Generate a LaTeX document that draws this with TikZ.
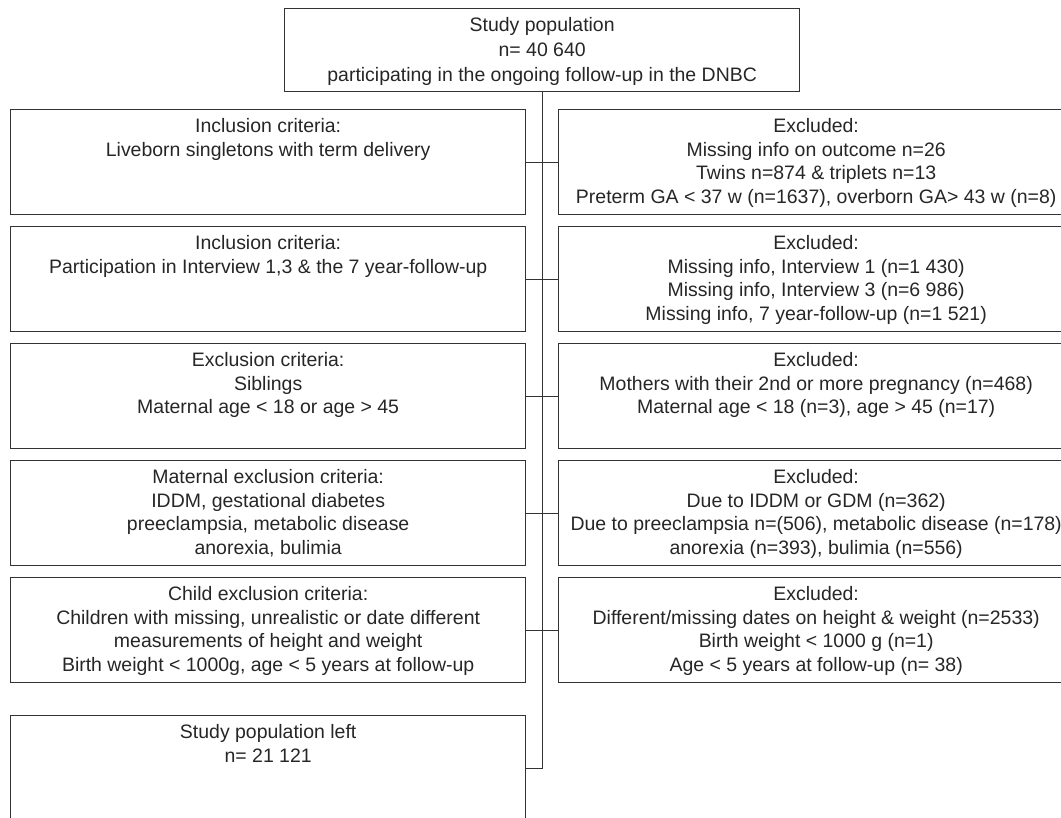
\documentclass[tikz,border=0pt]{standalone}
\usepackage{fontspec}
\setmainfont{Liberation Sans}
\usetikzlibrary{positioning}

\begin{document}
\begin{tikzpicture}[x=.75pt,y=-.75pt,
  box/.style={draw=black!80,line width=1pt,minimum width=386.25pt,minimum height=78.75pt,inner sep=0pt,anchor=north west},
  txt/.style={align=center,inner sep=0pt,text=black!85,font=\fontsize{14.6}{17.6}\selectfont},
  conn/.style={draw=black!80,line width=1pt}]
\clip (0,0) rectangle (1061,818);
% top box
\node[box,minimum height=62.25pt] (pop) at (284,8) {};
\node[txt,font=\fontsize{14.6}{18.8}\selectfont,below=7pt of pop.north] (popt) {Study population\\n= 40 640\\participating in the ongoing follow-up in the DNBC};
% row 1
\node[box] (l1) at (10,109) {};
\node[txt,below=7pt of l1.north] (l1t) {Inclusion criteria:\\Liveborn singletons with term delivery};
\node[box] (r1) at (558,109) {};
\node[txt,below=7pt of r1.north] (r1t) {Excluded:\\Missing info on outcome n=26\\Twins n=874 \& triplets n=13\\Preterm GA < 37 w (n=1637), overborn GA> 43 w (n=8)};
% row 2
\node[box] (l2) at (10,226) {};
\node[txt,below=7pt of l2.north] (l2t) {Inclusion criteria:\\Participation in Interview 1,3 \& the 7 year-follow-up};
\node[box] (r2) at (558,226) {};
\node[txt,below=7pt of r2.north] (r2t) {Excluded:\\Missing info, Interview 1 (n=1 430)\\Missing info, Interview 3 (n=6 986)\\Missing info, 7 year-follow-up (n=1 521)};
% row 3
\node[box] (l3) at (10,343) {};
\node[txt,below=7pt of l3.north] (l3t) {Exclusion criteria:\\Siblings\\Maternal age < 18 or age > 45};
\node[box] (r3) at (558,343) {};
\node[txt,below=7pt of r3.north] (r3t) {Excluded:\\Mothers with their 2nd or more pregnancy (n=468)\\Maternal age < 18 (n=3), age > 45 (n=17)};
% row 4
\node[box] (l4) at (10,460) {};
\node[txt,below=7pt of l4.north] (l4t) {Maternal exclusion criteria:\\IDDM, gestational diabetes\\preeclampsia, metabolic disease\\anorexia, bulimia};
\node[box] (r4) at (558,460) {};
\node[txt,below=7pt of r4.north] (r4t) {Excluded:\\Due to IDDM or GDM (n=362)\\Due to preeclampsia n=(506), metabolic disease (n=178)\\anorexia (n=393), bulimia (n=556)};
% row 5
\node[box] (l5) at (10,577) {};
\node[txt,below=7pt of l5.north] (l5t) {Child exclusion criteria:\\Children with missing, unrealistic or date different\\measurements of height and weight\\Birth weight < 1000g, age < 5 years at follow-up};
\node[box] (r5) at (558,577) {};
\node[txt,below=7pt of r5.north] (r5t) {Excluded:\\Different/missing dates on height \& weight (n=2533)\\Birth weight < 1000 g (n=1)\\Age < 5 years at follow-up (n= 38)};
% final box
\node[box] (fin) at (10,715) {};
\node[txt,below=7pt of fin.north] (fint) {Study population left\\n= 21 121};
% connectors
\draw[conn] (pop.south) |- (fin.east);
\draw[conn] (l1.east) -- (r1.west);
\draw[conn] (l2.east) -- (r2.west);
\draw[conn] (l3.east) -- (r3.west);
\draw[conn] (l4.east) -- (r4.west);
\draw[conn] (l5.east) -- (r5.west);
\end{tikzpicture}
\end{document}
